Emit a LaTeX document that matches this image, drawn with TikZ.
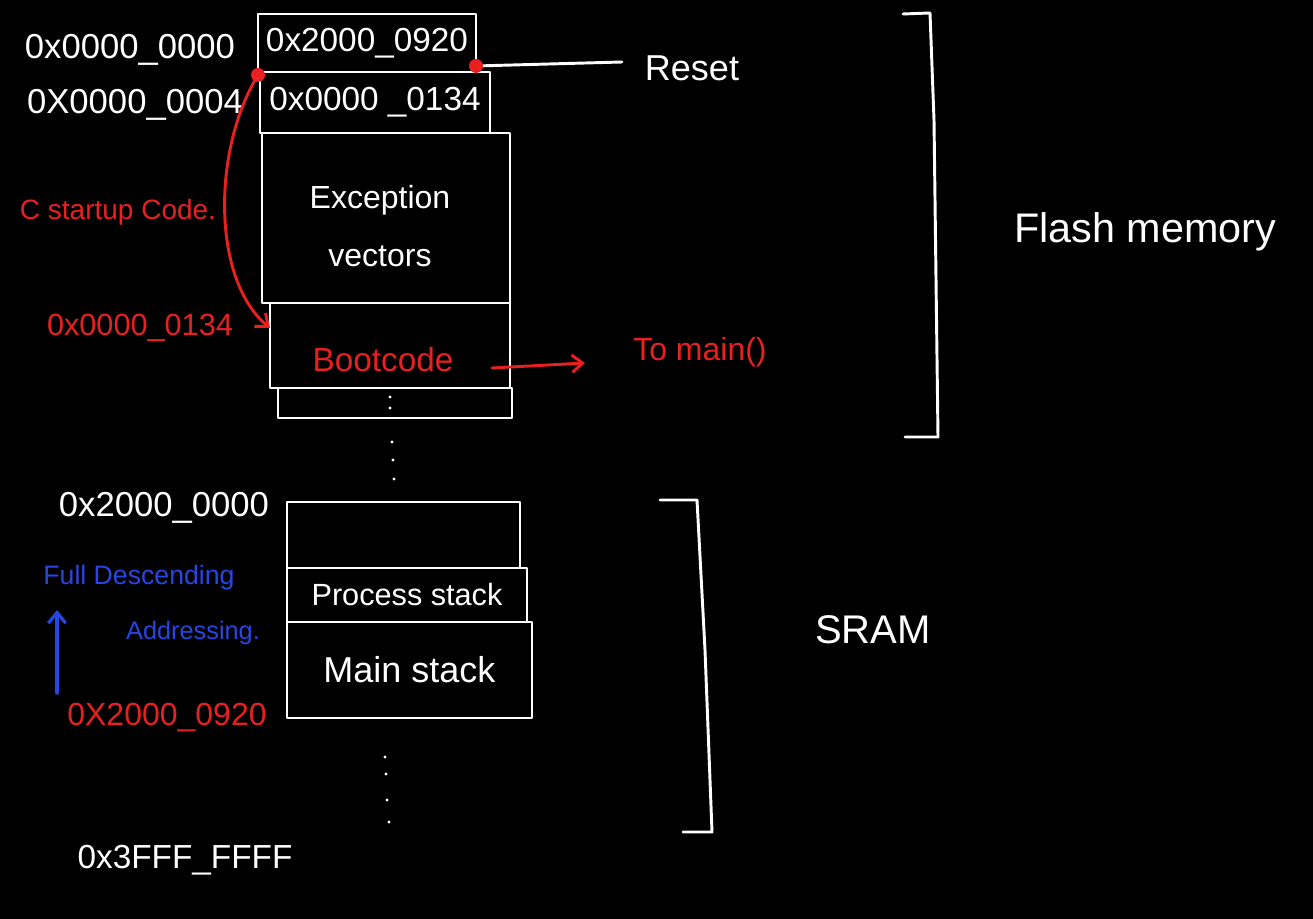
\documentclass[tikz,border=0pt]{standalone}
\usepackage{fontspec}
\setmainfont{Liberation Sans}
\usetikzlibrary{arrows.meta}
\definecolor{inkred}{RGB}{232,32,32}
\definecolor{inkblue}{RGB}{40,70,230}
\newcommand{\fsz}[1]{\fontsize{#1}{#1}\selectfont}
\begin{document}
\begin{tikzpicture}[x=0.75pt,y=-0.75pt,
  ink/.style={draw=white,line width=2.2pt,line join=round,line cap=round},
  cell/.style={ink,rectangle,inner sep=0pt,text=white},
  wlabel/.style={text=white,inner sep=0pt},
  rlabel/.style={text=inkred,inner sep=0pt},
  blabel/.style={text=inkblue,inner sep=0pt},
  reddot/.style={circle,fill=inkred,inner sep=0pt,minimum size=10.5pt},
  dotpt/.style={circle,fill=white,inner sep=0pt,minimum size=2.6pt},
  redarrow/.style={draw=inkred,line width=2.2pt,line cap=round,-{Straight Barb[length=8pt,width=13pt,line width=2.2pt]}},
  bluearrow/.style={draw=inkblue,line width=2.6pt,line cap=round,-{Straight Barb[length=8pt,width=13pt,line width=2.4pt]}}]
\fill[black] (0,0) rectangle (1313,919);
% Flash memory column
\node[cell,minimum width=163.5pt,minimum height=43.5pt,font=\fsz{25}] (r1) at (367,43) {0x2000\_0920};
\node[cell,minimum width=172.5pt,minimum height=45.75pt,font=\fsz{25}] (r2) at (375,102.5) {0x0000 \_0134};
\node[cell,minimum width=186pt,minimum height=127.5pt] (exc) at (386,218) {};
\node[wlabel,align=center,font=\fontsize{24}{43}\selectfont] (exct) at (380,226) {Exception\\vectors};
\node[cell,minimum width=180pt,minimum height=63.75pt] (boot) at (390,345.5) {};
\node[rlabel,font=\fsz{25}] (boott) at (383,360) {Bootcode};
\node[cell,minimum width=175.5pt,minimum height=22.5pt] (bot) at (395,403) {};
% labels left of flash
\node[wlabel,font=\fsz{26}] (a0) at (130,50) {0x0000\_0000};
\node[wlabel,font=\fsz{26}] (a4) at (135,105) {0X0000\_0004};
\node[rlabel,font=\fsz{21}] (cst) at (118,212) {C startup Code.};
\node[rlabel,font=\fsz{23}] (a134) at (140,328) {0x0000\_0134};
% right side
\node[wlabel,font=\fsz{27}] (reset) at (692,68) {Reset};
\node[rlabel,font=\fsz{24}] (tomain) at (700,352) {To main()};
\node[wlabel,font=\fsz{31}] (flash) at (1145,232) {Flash memory};
% connectors in flash
\coordinate (d1) at (258,75);
\coordinate (d2) at (476,66);
\coordinate (cbt) at (270,328);
\coordinate (rs) at (622,62);
\coordinate (tm0) at (492,368);
\coordinate (tm1) at (585,363);
\draw[redarrow] (d1) .. controls (212,150) and (212,280) .. (cbt);
\draw[ink] (d2) -- (rs);
\draw[redarrow] (tm0) -- (tm1);
\node[reddot] (dot1) at (d1) {};
\node[reddot] (dot2) at (d2) {};
% dots
\node[dotpt] at (390,397) {};
\node[dotpt] at (390,408) {};
\node[dotpt] at (392,442) {};
\node[dotpt] at (393,460) {};
\node[dotpt] at (394,479) {};
% Flash bracket
\draw[ink] (903,14) -- (930,13) -- (934,120) -- (938,437) -- (905,437);
% SRAM column
\node[cell,minimum width=174.75pt,minimum height=49.5pt] (s0) at (403.5,535) {};
\node[cell,minimum width=180pt,minimum height=40.5pt,font=\fsz{23}] (s1) at (407,595) {Process stack};
\node[cell,minimum width=183.75pt,minimum height=72pt,font=\fsz{27}] (s2) at (409.5,670) {Main stack};
\node[wlabel,font=\fsz{26}] (b0) at (164,508) {0x2000\_0000};
\node[blabel,font=\fsz{20}] (fd) at (139,578) {Full Descending};
\node[blabel,font=\fsz{19}] (addr) at (193,633) {Addressing.};
\node[rlabel,font=\fsz{24}] (a920) at (167,718) {0X2000\_0920};
\node[wlabel,font=\fsz{25}] (a3f) at (185,860) {0x3FFF\_FFFF};
\node[wlabel,font=\fsz{30}] (sram) at (873,630) {SRAM};
\coordinate (ba0) at (57,693);
\coordinate (ba1) at (57,610);
\draw[bluearrow] (ba0) -- (ba1);
\node[dotpt] at (385,757) {};
\node[dotpt] at (386,774) {};
\node[dotpt] at (387,800) {};
\node[dotpt] at (389,822) {};
% SRAM bracket
\draw[ink] (660,500) -- (697,500) -- (705,650) -- (712,832) -- (683,832);
\end{tikzpicture}
\end{document}
